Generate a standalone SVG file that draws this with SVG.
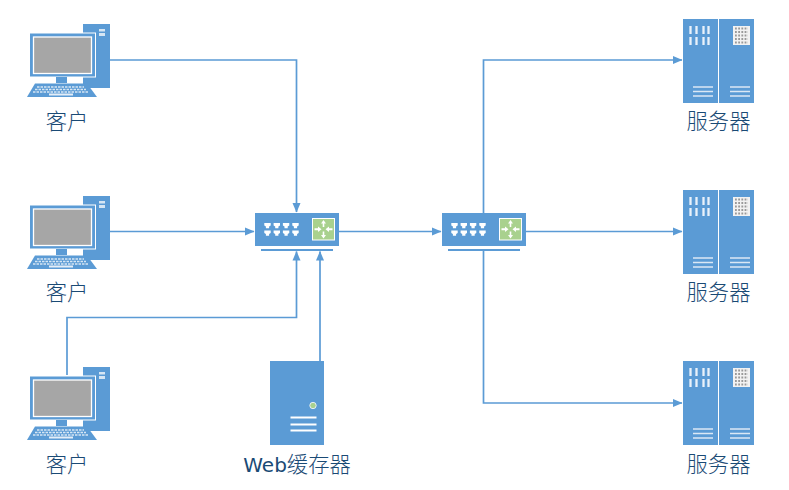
<svg xmlns="http://www.w3.org/2000/svg" xmlns:xlink="http://www.w3.org/1999/xlink" width="789" height="490" viewBox="0 0 789 490">
<style>
.b{fill:#5b9bd5}
.w{fill:#fff}
.c{fill:none;stroke:#5b9bd5;stroke-width:1.7}
.t{font-family:"Noto Sans CJK SC","DejaVu Sans",sans-serif;font-size:21.3px;fill:#1a4a75;text-anchor:middle;font-weight:300}
.w1{font-family:"DejaVu Sans",sans-serif;font-weight:400;font-size:20px}
</style>
<defs>
<marker id="a" markerUnits="userSpaceOnUse" markerWidth="10" markerHeight="10" refX="9" refY="5" orient="auto"><path d="M0 1L9.500 5L0 9Z" fill="#5b9bd5"/></marker>
<path id="port" class="w" d="M0 0h6.400v2.400l-1.600 1v1.800h-3.200v-1.800l-1.600-1z"/>
<g id="pc">
<rect class="b" x="83" y="24" width="27" height="64"/>
<rect fill="#d6e6f4" x="99" y="29" width="6" height="2.500"/><rect fill="#d6e6f4" x="99" y="33" width="6" height="3"/>
<rect class="w" x="29" y="32.500" width="67" height="45"/>
<rect class="b" x="30" y="33.500" width="65" height="43"/>
<rect x="33.500" y="37" width="58" height="36.500" fill="#a6a6a6" stroke="#fff" stroke-width="1.300"/>
<rect class="b" x="56" y="77" width="11" height="6"/>
<path class="b" d="M35 83.500H87L97 97H27Z"/>
<path d="M37 87H84M35 89.500H86M33 92H88" stroke="#d6e6f4" stroke-width="1.500" stroke-dasharray="2.500 1" fill="none"/>
<rect x="49" y="93.500" width="24" height="2" fill="#e4eef8"/>
</g>
<g id="sw">
<rect class="b" x="255" y="213" width="84" height="33"/>
<rect class="b" x="261" y="249" width="72" height="2"/>
<use href="#port" xlink:href="#port" x="264.300" y="223"/><use href="#port" xlink:href="#port" x="273.600" y="223"/><use href="#port" xlink:href="#port" x="282.900" y="223"/><use href="#port" xlink:href="#port" x="292.300" y="223"/>
<use href="#port" xlink:href="#port" x="264.300" y="230.500"/><use href="#port" xlink:href="#port" x="273.600" y="230.500"/><use href="#port" xlink:href="#port" x="282.900" y="230.500"/><use href="#port" xlink:href="#port" x="292.300" y="230.500"/>
<rect x="312.500" y="218.500" width="22" height="21.500" fill="#a9d18e" stroke="#fff" stroke-width="1"/>
<path class="w" d="M323.500 220l2.500 3.500h-1.700v3.500h-1.600v-3.500H321zM323.500 238.500l2.500-3.500h-1.700v-3.500h-1.600v3.500H321zM314.500 228.200h3.500v-1.700l3.500 2.700-3.500 2.700v-1.700h-3.500zM332.500 228.200h-3.500v-1.700l-3.500 2.700 3.500 2.700v-1.700h3.500z"/>
</g>
<g id="srv">
<rect class="b" x="683" y="19" width="35" height="84"/>
<rect class="b" x="719" y="19" width="35" height="84"/>
<path d="M690.500 26v8M696.500 26v8M703.500 26v8M708.500 26v8M690.500 37v8M696.500 37v8M703.500 37v8M708.500 37v8" stroke="#e9f1fa" stroke-width="2.300" fill="none"/>
<rect x="733" y="26" width="17" height="19" fill="#f2f2f2"/>
<path d="M735 28.500h13M735 32h13M735 35.500h13M735 39h13M735 42.500h13" stroke="#999" stroke-width="1.800" stroke-dasharray="1.800 1.400" fill="none"/>
<path d="M693 87h20M693 91.500h20M693 96h20M730 87h20M730 91.500h20M730 96h20" stroke="#dbe8f5" stroke-width="1.500" fill="none"/>
</g>
</defs>
<g id="connectors">
<path class="c" marker-end="url(#a)" d="M110 60H296.500V212"/>
<path class="c" marker-end="url(#a)" d="M110 231.500H254"/>
<path class="c" marker-end="url(#a)" d="M67 375V317.500H296.500V251.500"/>
<path class="c" marker-end="url(#a)" d="M320 361V251.500"/>
<path class="c" marker-end="url(#a)" d="M339 231.500H441"/>
<path class="c" marker-end="url(#a)" d="M483.500 213V60H682"/>
<path class="c" marker-end="url(#a)" d="M526 231.500H682"/>
<path class="c" marker-end="url(#a)" d="M483.500 251V403H682"/>
</g>
<g id="client1"><use xlink:href="#pc" href="#pc"/><text class="t" x="67" y="129">客户</text></g>
<g id="client2"><use xlink:href="#pc" href="#pc" y="172"/><text class="t" x="67" y="300">客户</text></g>
<g id="client3"><use xlink:href="#pc" href="#pc" y="343"/><text class="t" x="67" y="472">客户</text></g>
<g id="switch1"><use xlink:href="#sw" href="#sw"/></g>
<g id="switch2"><use xlink:href="#sw" href="#sw" x="187"/></g>
<g id="server1"><use xlink:href="#srv" href="#srv"/><text class="t" x="718.500" y="129">服务器</text></g>
<g id="server2"><use xlink:href="#srv" href="#srv" y="171"/><text class="t" x="718.500" y="300">服务器</text></g>
<g id="server3"><use xlink:href="#srv" href="#srv" y="342"/><text class="t" x="718.500" y="472">服务器</text></g>
<g id="webcache">
<rect class="b" x="270" y="361" width="54" height="84"/>
<circle cx="313" cy="405.500" r="3.200" fill="#a9d18e" stroke="#e4eef8" stroke-width="1"/>
<path d="M290.500 417.500h26M290.500 424.500h26M290.500 430.500h26" stroke="#fff" stroke-width="2" fill="none"/>
<text class="t" x="297" y="472"><tspan class="w1">Web</tspan>缓存器</text>
</g>
</svg>
